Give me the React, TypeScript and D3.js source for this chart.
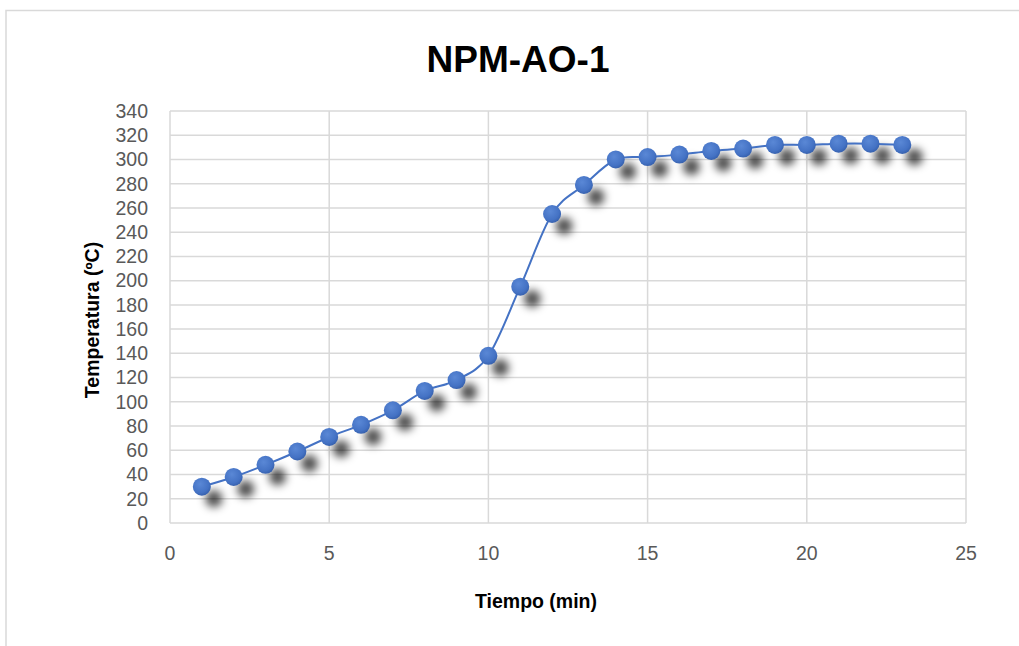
import React from "react";
import * as d3 from "d3";

const title = "NPM-AO-1";
const xTitle = "Tiempo (min)";
const yTitle = "Temperatura (ºC)";
const times = [1, 2, 3, 4, 5, 6, 7, 8, 9, 10, 11, 12, 13, 14, 15, 16, 17, 18, 19, 20, 21, 22, 23];
const temps = [30, 38, 48, 59, 71, 81, 93, 109, 118, 138, 195, 255, 279, 300, 302, 304, 307, 309, 312, 312, 313, 313, 312];
const xTicks = [0, 5, 10, 15, 20, 25];
const yTicks = d3.range(0, 341, 20);

const W = 1019;
const H = 646;
const plot = { left: 170, right: 966, top: 111, bottom: 523 };

export default function App() {
  const x = d3.scaleLinear().domain([0, 25]).range([plot.left, plot.right]);
  const y = d3.scaleLinear().domain([0, 340]).range([plot.bottom, plot.top]);
  const pts: [number, number][] = times.map((t, i) => [x(t), y(temps[i])]);
  const line = d3.line().curve(d3.curveCardinal.tension(0))(pts) || "";
  const grid = "#D9D9D9";
  const blue = "#4472C4";
  const font = "'Liberation Sans', Arial, sans-serif";

  return (
    <svg
      width={W}
      height={H}
      style={{ position: "absolute", left: 0, top: 0, display: "block", background: "#fff" }}
    >
      <defs>
        <filter id="shadow" x="-100%" y="-100%" width="300%" height="300%">
          <feGaussianBlur stdDeviation="4" />
        </filter>
        <radialGradient id="mk" cx="40%" cy="35%" r="70%">
          <stop offset="0%" stopColor="#5A88D6" />
          <stop offset="70%" stopColor="#4472C4" />
          <stop offset="100%" stopColor="#345DA8" />
        </radialGradient>
      </defs>
      <rect x={6} y={10.5} width={W + 10} height={H} fill="#fff" stroke={grid} strokeWidth={1.5} />

      <text x={518} y={72} textAnchor="middle" fontFamily={font} fontWeight="bold" fontSize={37} fill="#000">
        {title}
      </text>

      {yTicks.map((v) => (
        <line key={"h" + v} x1={plot.left} x2={plot.right} y1={y(v)} y2={y(v)} stroke={grid} strokeWidth={1.5} />
      ))}
      {xTicks.map((v) => (
        <line key={"v" + v} x1={x(v)} x2={x(v)} y1={plot.top} y2={plot.bottom} stroke={grid} strokeWidth={1.5} />
      ))}

      {yTicks.map((v) => (
        <text key={"yl" + v} x={148} y={y(v)} dy="0.35em" textAnchor="end" fontFamily={font} fontSize={19.5} fill="#595959">
          {v}
        </text>
      ))}
      {xTicks.map((v) => (
        <text key={"xl" + v} x={x(v)} y={553} dy="0.35em" textAnchor="middle" fontFamily={font} fontSize={19.5} fill="#595959">
          {v}
        </text>
      ))}

      <text x={536} y={601} dy="0.35em" textAnchor="middle" fontFamily={font} fontWeight="bold" fontSize={19.5} fill="#000">
        {xTitle}
      </text>
      <text
        transform={`translate(92,320) rotate(-90)`}
        dy="0.35em"
        textAnchor="middle"
        fontFamily={font}
        fontWeight="bold"
        fontSize={19.5}
        fill="#000"
      >
        {yTitle}
      </text>

      <g filter="url(#shadow)">
        {pts.map((p, i) => (
          <circle key={"s" + i} cx={p[0] + 12} cy={p[1] + 12} r={8.5} fill="#000" opacity={0.7} />
        ))}
      </g>
      <path d={line} fill="none" stroke={blue} strokeWidth={2} />
      {pts.map((p, i) => (
        <circle key={"m" + i} cx={p[0]} cy={p[1]} r={9} fill="url(#mk)" />
      ))}
    </svg>
  );
}
